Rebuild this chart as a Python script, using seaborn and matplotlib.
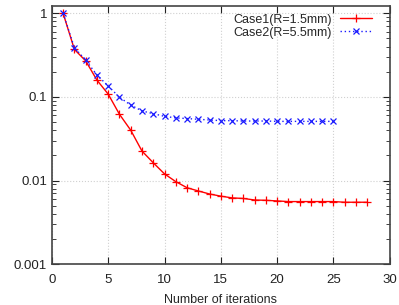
import numpy as np
import pandas as pd
import matplotlib
matplotlib.use("Agg")
import matplotlib.pyplot as plt
import seaborn as sns

# Values (log scale)
iters_case1 = list(range(1, 29))
err_case1 = [1.0, 0.37, 0.27, 0.159, 0.108, 0.062, 0.040, 0.0225, 0.0163, 0.012,
             0.0097, 0.0082, 0.0075, 0.0069, 0.0065, 0.0062, 0.0061, 0.00585, 0.0058, 0.0057,
             0.0056, 0.0056, 0.0056, 0.0056, 0.0056, 0.0055, 0.0055, 0.0055]
iters_case2 = list(range(1, 26))
err_case2 = [1.0, 0.388, 0.276, 0.183, 0.135, 0.099, 0.080, 0.068, 0.063, 0.0586,
             0.0561, 0.0551, 0.054, 0.053, 0.052, 0.052, 0.0515, 0.0515, 0.0515, 0.051,
             0.051, 0.051, 0.051, 0.051, 0.051]
labels = ["Case1(R=1.5mm)", "Case2(R=5.5mm)"]
red, blue = "#ff0000", "#1a1aff"

sns.set_style("ticks")
plt.rcParams["font.family"] = ["Liberation Sans", "DejaVu Sans"]
plt.rcParams["font.size"] = 9

fig = plt.figure(figsize=(3.99, 3.05), dpi=100)
ax = fig.add_axes([0.130, 0.134, 0.847, 0.846])

# seaborn paints marker edges white by default -> set them to the line colour
sns.lineplot(x=iters_case1, y=err_case1, label=labels[0], color=red,
             linestyle="-", marker="+", markersize=5.5, markeredgewidth=0.9,
             markeredgecolor=red, linewidth=1.0, ax=ax)
sns.lineplot(x=iters_case2, y=err_case2, label=labels[1], color=blue,
             linestyle=(0, (1, 2)), marker="x", markersize=4.5, markeredgewidth=0.9,
             markeredgecolor=blue, linewidth=1.0, ax=ax)

ax.set_yscale("log")
ax.set_xlim(0, 30)
ax.set_ylim(0.001, 1.22)
ax.set_xticks([0, 5, 10, 15, 20, 25, 30])
ax.set_yticks([0.001, 0.01, 0.1, 1])
ax.set_yticklabels(["0.001", "0.01", "0.1", "1"])
ax.grid(True, which="major", color="#d0d0d0", linestyle=":", linewidth=0.8)
ax.tick_params(which="both", direction="in", top=True, right=True, colors="#222222",
               labelsize=9.5)
ax.tick_params(axis="x", pad=7)
ax.tick_params(which="major", length=5)
ax.tick_params(which="minor", length=3)
for s in ax.spines.values():
    s.set_color("#444444")
    s.set_linewidth(1.2)
ax.set_xlabel("Number of iterations", fontsize=9, labelpad=6)
ax.set_ylabel("")

leg = ax.legend(loc="upper right", bbox_to_anchor=(0.97, 1.0), frameon=False,
                markerfirst=False, handlelength=2.6, handletextpad=0.6,
                borderaxespad=0.2, labelspacing=0.1, fontsize=9)

fig.savefig("out.png", dpi=100)
